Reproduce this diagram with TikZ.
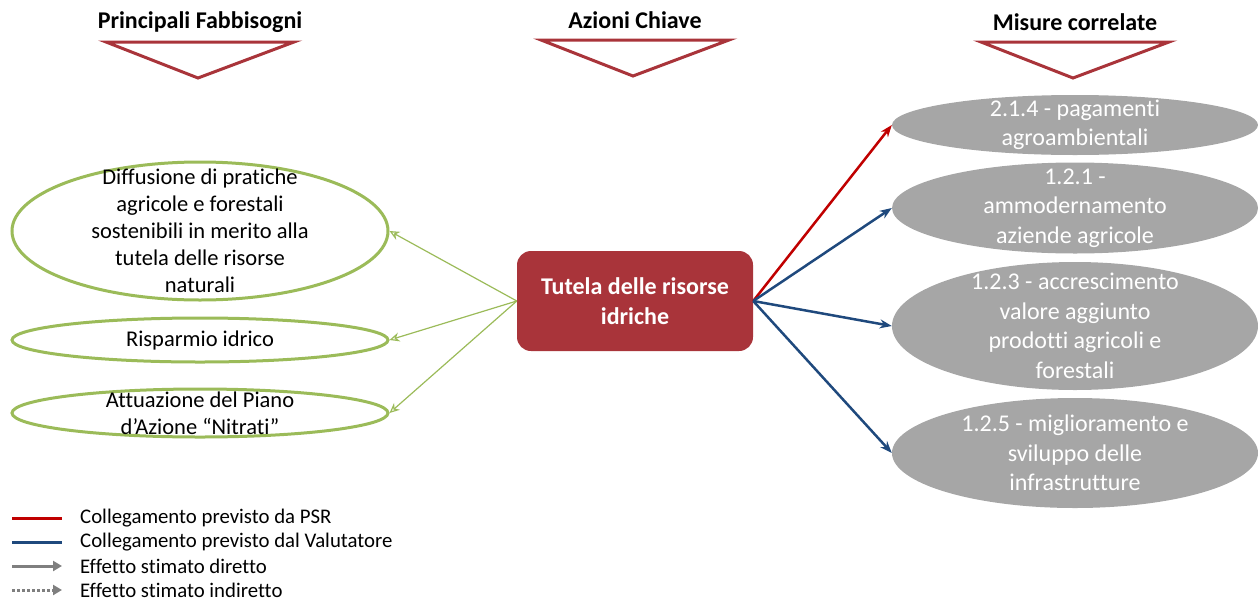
\documentclass[tikz,border=0pt]{standalone}
\usepackage{fontspec}
\setmainfont{Carlito}[Ligatures=NoCommon]
\usepackage{tikz}
\usetikzlibrary{shapes.geometric,arrows.meta}
\definecolor{darkred}{HTML}{A9343A}
\definecolor{leafgreen}{HTML}{9BBB59}
\definecolor{midgray}{HTML}{A6A6A6}
\definecolor{navy}{HTML}{1F497D}
\definecolor{psrred}{HTML}{C00000}
\definecolor{arrowgray}{HTML}{7F7F7F}
\tikzstyle{need}=[ellipse, draw=leafgreen, line width=3pt, fill=white, inner sep=0pt, minimum width=376pt]
\tikzstyle{needtext}=[align=center, inner sep=0pt, font=\fontsize{22.5}{27}\selectfont]
\tikzstyle{measure}=[ellipse, fill=midgray, inner sep=0pt, minimum width=366pt]
\tikzstyle{measuretext}=[align=center, inner sep=0pt, text=white, font=\fontsize{24}{29.5}\selectfont]
\tikzstyle{header}=[font=\bfseries\fontsize{24}{28}\selectfont]
\tikzstyle{legendtext}=[anchor=west, inner sep=0pt, font=\fontsize{20.8}{24}\selectfont]
\tikzstyle{psr}=[line width=2.5pt, color=psrred, -{Stealth[length=12pt,width=9pt]}]
\tikzstyle{val}=[line width=2.5pt, color=navy, -{Stealth[length=12pt,width=9pt]}]
\tikzstyle{back}=[line width=1.2pt, color=leafgreen, -{Stealth[length=10pt,width=9pt,open]}]

\begin{document}
\begin{tikzpicture}[x=1pt, y=-1pt]
    \useasboundingbox (0,0) rectangle (1258,603);

    % column headers with their triangles
    \foreach \cx/\ty/\txt in {200/22/Principali Fabbisogni, 635/20/Azioni Chiave, 1075/22/Misure correlate}{
      \node[header] at (\cx, \ty) {\txt};
      \draw[line width=3pt, color=darkred, fill=white, line join=miter]
      (\cx - 94, \ty + 20) -- (\cx + 94, \ty + 20) -- (\cx - 2, \ty + 56) -- cycle;
    }

    % needs
    \node[need, minimum height=138pt, label={[needtext]center:{Diffusione di pratiche\\agricole e forestali\\sostenibili in merito alla\\tutela delle risorse\\naturali}}]
      (diffusione) at (200,231) {};
    \node[need, minimum height=44pt, label={[needtext]center:{Risparmio idrico}}]
      (risparmio) at (200,340) {};
    \node[need, minimum height=48pt, label={[needtext]center:{Attuazione del Piano\\d'Azione ``Nitrati''}}]
      (nitrati) at (200,413) {};

    % key action
    \node[rectangle, rounded corners=14pt, fill=darkred, text=white, minimum width=236pt,
      minimum height=100pt, align=center, font=\bfseries\fontsize{24}{29.5}\selectfont]
      (tutela) at (635,301) {Tutela delle risorse\\idriche};

    % measures
    \node[measure, minimum height=60pt, label={[measuretext]center:{2.1.4 - pagamenti\\agroambientali}}]
      (m214) at (1075,125) {};
    \node[measure, minimum height=91pt, label={[measuretext]center:{1.2.1 -\\ammodernamento\\aziende agricole}}]
      (m121) at (1075,208) {};
    \node[measure, minimum height=128pt, label={[measuretext]center:{1.2.3 - accrescimento\\valore aggiunto\\prodotti agricoli e\\forestali}}]
      (m123) at (1075,326) {};
    \node[measure, minimum height=110pt, label={[measuretext]center:{1.2.5 - miglioramento e\\sviluppo delle\\infrastrutture}}]
      (m125) at (1075,453) {};

    % links
    \draw[psr] (tutela.east) -- (m214.west);
    \foreach \m in {m121, m123, m125}
    \draw[val] (tutela.east) -- (\m.west);
    \foreach \n in {diffusione, risparmio, nitrati}
    \draw[back] (tutela.west) -- (\n.east);

    % legend
    \coordinate (la) at (12,518);
    \coordinate (lb) at (62,518);
    \coordinate (lc) at (12,542);
    \coordinate (ld) at (62,542);
    \coordinate (le) at (12,566);
    \coordinate (lf) at (62,566);
    \coordinate (lg) at (12,590);
    \coordinate (lh) at (62,590);
    \draw[line width=3pt, color=psrred] (la) -- (lb);
    \draw[line width=3pt, color=navy] (lc) -- (ld);
    \draw[line width=3pt, color=arrowgray, -{Triangle[length=9pt,width=10pt]}] (le) -- (lf);
    \draw[line width=3pt, color=arrowgray, dash pattern=on 3pt off 2pt, -{Triangle[length=9pt,width=10pt]}] (lg) -- (lh);
    \node[legendtext] (t1) at (80,518) {Collegamento previsto da PSR};
    \node[legendtext] (t2) at (80,542) {Collegamento previsto dal Valutatore};
    \node[legendtext] (t3) at (80,566) {Effetto stimato diretto};
    \node[legendtext] (t4) at (80,590) {Effetto stimato indiretto};
\end{tikzpicture}
\end{document}
